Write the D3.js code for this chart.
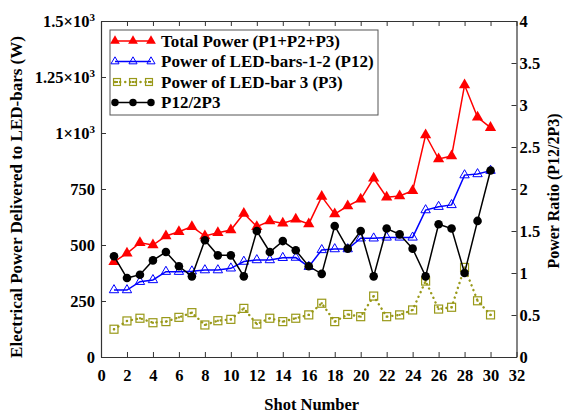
<!DOCTYPE html>
<html>
<head>
<meta charset="utf-8">
<script src="https://cdn.jsdelivr.net/npm/d3@7"></script>
<style>
  body { margin: 0; background: #fff; }
  svg text { font-family: "Liberation Serif", "Times New Roman", serif; font-weight: bold; }
</style>
</head>
<body>
<div id="chart"></div>
<script>
// shot numbers 1..30
const shots = d3.range(1, 31);

// Total Power (P1+P2+P3), W
const totalPower = [425, 463, 510, 500, 540, 559, 582, 540, 555, 567,
                    641, 582, 607, 597, 615, 594, 716, 638, 674, 704,
                    798, 713, 719, 742, 991, 884, 897, 1214, 1070, 1024];

// Power of LED-bars-1-2 (P12), W
const powerP12 = [299, 299, 336, 344, 381, 381, 383, 388, 388, 396,
                  426, 433, 433, 443, 444, 403, 478, 482, 482, 530,
                  530, 534, 534, 534, 656, 671, 679, 812, 817, 832];

// Power of LED-bar 3 (P3), W
const powerP3 = [124, 161, 173, 153, 158, 177, 198, 143, 162, 168,
                 217, 147, 173, 158, 173, 188, 240, 158, 190, 180,
                 272, 180, 188, 210, 339, 214, 222, 400, 251, 188];

// P12 / 2P3 ratio (right axis)
const ratio = [1.20, 0.94, 0.98, 1.15, 1.25, 1.08, 0.96, 1.39, 1.21, 1.21,
               0.96, 1.50, 1.25, 1.38, 1.27, 1.08, 0.99, 1.56, 1.29, 1.50,
               0.96, 1.53, 1.46, 1.29, 0.96, 1.58, 1.53, 1.00, 1.62, 2.22];

const xTicks = d3.range(0, 33, 2);
const leftTicks = [0, 250, 500, 750, 1000, 1250, 1500];
const rightTicks = [0, 0.5, 1, 1.5, 2, 2.5, 3, 3.5, 4];

const legendLabels = ["Total Power (P1+P2+P3)", "Power of LED-bars-1-2 (P12)",
                      "Power of LED-bar 3 (P3)", "P12/2P3"];

function draw() {
    const width = 571, height = 414;
    const left = 101, right = 516.5, top = 21, bottom = 357;

    const svg = d3.select("#chart").append("svg")
        .attr("width", width)
        .attr("height", height);

    const x = d3.scaleLinear().domain([0, 32]).range([left, right]);
    const yL = d3.scaleLinear().domain([0, 1500]).range([bottom, top]);
    const yR = d3.scaleLinear().domain([0, 4]).range([bottom, top]);

    const fs = 16.5;
    const axisColor = "#333";

    // axes, ticks pointing inward (matlab-ish)
    const gx = svg.append("g").attr("transform", `translate(0,${bottom})`)
        .call(d3.axisBottom(x).tickValues(xTicks).tickSizeInner(-5).tickSizeOuter(0).tickPadding(10));
    const gxTop = svg.append("g").attr("transform", `translate(0,${top})`)
        .call(d3.axisTop(x).tickValues(xTicks).tickSizeInner(-5).tickSizeOuter(0).tickFormat(""));
    const gl = svg.append("g").attr("transform", `translate(${left},0)`)
        .call(d3.axisLeft(yL).tickValues(leftTicks).tickSizeInner(-5).tickSizeOuter(0).tickPadding(8).tickFormat(""));
    const gr = svg.append("g").attr("transform", `translate(${right},0)`)
        .call(d3.axisRight(yR).tickValues(rightTicks).tickSizeInner(-5).tickSizeOuter(0).tickPadding(4).tickFormat(d3.format("")));

    [gx, gxTop, gl, gr].forEach(g => {
        g.select(".domain").attr("stroke", axisColor).attr("stroke-width", 1.2);
        g.selectAll(".tick line").attr("stroke", axisColor);
        g.selectAll("text").attr("font-size", fs).attr("fill", "#000")
            .attr("font-family", "Liberation Serif").attr("font-weight", "bold");
    });
    gr.selectAll(".tick text").attr("x", 3);
    gx.selectAll(".tick text").attr("dy", "0.85em");

    // left tick labels with x10^3 notation
    gl.selectAll(".tick").each(function (d) {
        const t = d3.select(this).append("text")
            .attr("x", -6).attr("dy", "0.35em")
            .attr("text-anchor", "end")
            .attr("font-size", fs).attr("fill", "#000");
        if (d >= 1000) {
            t.append("tspan").text(d3.format("")(d / 1000) + "\u00d710");
            t.append("tspan").attr("font-size", 11).attr("dy", "-0.6em").text("3");
        } else {
            t.text(d);
        }
    });

    // axis titles
    svg.append("text")
        .attr("transform", `translate(22,${(top + bottom) / 2 + 8}) rotate(-90)`)
        .attr("text-anchor", "middle").attr("font-size", 17).text("Electrical Power Delivered to LED-bars (W)");
    svg.append("text")
        .attr("transform", `translate(559,${(top + bottom) / 2 + 2}) rotate(-90)`)
        .attr("text-anchor", "middle").attr("font-size", 16).text("Power Ratio (P12/2P3)");
    svg.append("text")
        .attr("x", (left + right) / 2 + 3).attr("y", 410)
        .attr("text-anchor", "middle").attr("font-size", fs).text("Shot Number");

    const plot = svg.append("g");

    const series = [
        { vals: totalPower, y: yL, color: "#ff0000", dash: null, marker: "triFill" },
        { vals: powerP12, y: yL, color: "#0000ff", dash: null, marker: "triOpen" },
        { vals: powerP3, y: yL, color: "#999919", dash: "0.1,5", marker: "square" },
        { vals: ratio, y: yR, color: "#000000", dash: null, marker: "circle" }
    ];

    const triUp = d3.symbol().type(d3.symbolTriangle);

    function drawMarker(g, kind, color, cx, cy, scaleDown) {
        const s = scaleDown || 1;
        if (kind === "triFill") {
            g.append("path").attr("d", triUp.size(55 * s)())
                .attr("transform", `translate(${cx},${cy})`).attr("fill", color);
        } else if (kind === "triOpen") {
            g.append("path").attr("d", triUp.size(38 * s)())
                .attr("transform", `translate(${cx},${cy})`)
                .attr("fill", "none").attr("stroke", color).attr("stroke-width", 1);
        } else if (kind === "square") {
            const h = 4 * Math.sqrt(s);
            g.append("rect").attr("x", cx - h).attr("y", cy - h)
                .attr("width", 2 * h).attr("height", 2 * h)
                .attr("fill", "none").attr("stroke", color).attr("stroke-width", 1.2);
            g.append("rect").attr("x", cx - 1).attr("y", cy - 1).attr("width", 2).attr("height", 2).attr("fill", color);
        } else {
            g.append("circle").attr("cx", cx).attr("cy", cy).attr("r", 4.3 * Math.sqrt(s)).attr("fill", color);
        }
    }

    // draw in order: P3, P12, total, ratio
    [2, 1, 0, 3].forEach(i => {
        const s = series[i];
        const line = d3.line().x((d, j) => x(shots[j])).y(d => s.y(d));
        plot.append("path").datum(s.vals)
            .attr("d", line)
            .attr("fill", "none")
            .attr("stroke", s.color)
            .attr("stroke-width", s.dash ? 2.4 : 1.5)
            .attr("stroke-linecap", s.dash ? "round" : "butt")
            .attr("stroke-dasharray", s.dash);
        s.vals.forEach((v, j) => drawMarker(plot, s.marker, s.color, x(shots[j]), s.y(v)));
    });

    // legend
    const lg = svg.append("g");
    lg.append("rect").attr("x", 110).attr("y", 30).attr("width", 268).attr("height", 85)
        .attr("fill", "#fff").attr("stroke", "#555").attr("stroke-width", 1);
    legendLabels.forEach((lab, i) => {
        const s = series[i];
        const yy = 41 + i * 20.5;
        lg.append("line").attr("x1", 115).attr("x2", 151).attr("y1", yy).attr("y2", yy)
            .attr("stroke", s.color)
            .attr("stroke-width", s.dash ? 2.4 : 1.5)
            .attr("stroke-linecap", s.dash ? "round" : "butt")
            .attr("stroke-dasharray", s.dash);
        [115, 133, 151].forEach(cx => drawMarker(lg, s.marker, s.color, cx + (s.marker === "square" ? 2 * (cx === 115) - 2 * (cx === 151) : 0), yy, 0.75));
        lg.append("text").attr("x", 161).attr("y", yy).attr("dy", "0.35em")
            .attr("font-size", 17).text(lab);
    });
}

window.onload = draw;
</script>
</body>
</html>
